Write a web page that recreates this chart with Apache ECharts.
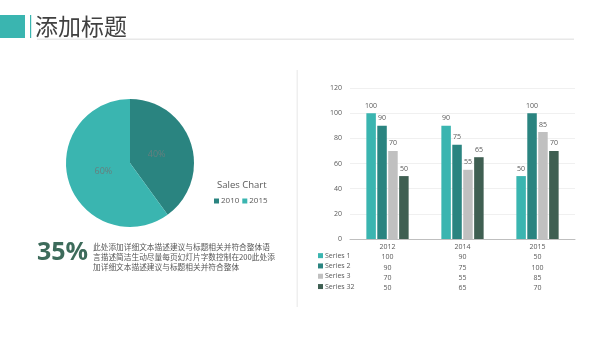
<!DOCTYPE html>
<html><head><meta charset="utf-8">
<script src="https://cdn.jsdelivr.net/npm/echarts@6/dist/echarts.min.js"></script>
<style>html,body{margin:0;padding:0;background:#fff}#c{width:600px;height:338px}</style>
</head><body><div id="c"></div>
<script>
const pieNames = ['2010', '2015'];
const pieValues = [40, 60];
const categories = ['2012', '2014', '2015'];
const seriesNames = ['Series 1', 'Series 2', 'Series 3', 'Series 32'];
const series1 = [100, 90, 50];
const series2 = [90, 75, 100];
const series3 = [70, 55, 85];
const series4 = [50, 65, 70];
const yTicks = [0, 20, 40, 60, 80, 100, 120];
const bigStat = '35%';
const paragraph = ['此处添加详细文本描述建议与标题相关并符合整体语', '言描述简洁生动尽量每页幻灯片字数控制在200此处添', '加详细文本描述建议与标题相关并符合整体'];
const titleText = '添加标题';

const barData = [series1, series2, series3, series4];
const barColors = ['#3ab5b0', '#2a8480', '#c0c0c0', '#3f5f52'];
const pieColors = ['#2a8480', '#3ab5b0'];
const font = '"Open Sans","Noto Sans CJK SC",sans-serif';
const pieItems = pieNames.map((n, i) => ({name: n, value: pieValues[i]}));

const chart = echarts.init(document.getElementById('c'));
chart.setOption({
  animation: false,
  textStyle: {fontFamily: font},
  graphic: [
    {type: 'rect', shape: {x: 0, y: 15, width: 25, height: 23}, style: {fill: '#3ab5b0'}},
    {type: 'rect', shape: {x: 30, y: 15, width: 1.2, height: 23}, style: {fill: '#3ab5b0'}},
    {type: 'rect', shape: {x: 37, y: 38.5, width: 537, height: 1.5}, style: {fill: '#e8e8e8'}},
    {type: 'rect', shape: {x: 296.5, y: 70, width: 1.5, height: 237}, style: {fill: '#efefef'}},
    {type: 'text', x: 35, y: 26, style: {text: titleText, fill: '#404040', font: '23px "Noto Sans CJK SC"', textVerticalAlign: 'middle'}},
    {type: 'text', x: 37, y: 253, style: {text: bigStat, fill: '#3d6b5b', font: 'bold 25px "Open Sans"', textVerticalAlign: 'middle'}},
    {type: 'text', x: 93, y: 242.5, style: {text: paragraph.join('\n'), fill: '#555', font: '7.7px "Noto Sans CJK SC"', lineHeight: 10, textVerticalAlign: 'top'}}
  ],
  title: {text: 'Sales Chart', left: 212, top: 176, textStyle: {fontSize: 9.5, fontWeight: 'normal', color: '#595959', fontFamily: font}},
  legend: [
    {data: pieNames, left: 209, top: 192, itemWidth: 5, itemHeight: 5, itemGap: 3, icon: 'rect',
     textStyle: {fontSize: 8, color: '#595959', padding: [0, 0, 0, -3]}},
    {data: seriesNames, orient: 'vertical', left: 313, top: 246, itemWidth: 5, itemHeight: 5, itemGap: 1, icon: 'rect',
     textStyle: {fontSize: 7, color: '#595959', lineHeight: 9.3, padding: [0, 0, 0, -3]}}
  ],
  grid: {left: 350, right: 25, top: 88, bottom: 99},
  xAxis: {type: 'category', data: categories,
    axisLine: {lineStyle: {color: '#bfbfbf'}}, axisTick: {show: false},
    axisLabel: {color: '#595959', fontSize: 7, margin: 3, lineHeight: 10.3,
      formatter: (v, i) => [v].concat(barData.map(s => s[i])).join('\n')}},
  yAxis: {type: 'value', min: 0, max: 120, interval: 20,
    axisLabel: {color: '#595959', fontSize: 7, margin: 8},
    splitLine: {lineStyle: {color: '#f0f0f0'}}},
  series: [
    {type: 'pie', center: [130, 163], radius: 64, startAngle: 90, clockwise: true,
     data: pieItems.map((d, i) => ({...d, itemStyle: {color: pieColors[i]}})),
     label: {show: false}, labelLine: {show: false}, emphasis: {disabled: true}},
    {type: 'pie', center: [130, 163], radius: 50, startAngle: 90, clockwise: true, silent: true,
     legendHoverLink: false, z: 5,
     data: pieItems.map(d => ({...d, itemStyle: {color: 'rgba(0,0,0,0)'}})),
     label: {position: 'inside', formatter: '{d}%', color: '#667f7e', fontSize: 9},
     labelLine: {show: false}, emphasis: {disabled: true}}
  ].concat(barData.map((d, i) => ({
    type: 'bar', name: seriesNames[i], data: d, barWidth: 9.5, barGap: '15%', barCategoryGap: '44%',
    itemStyle: {color: barColors[i]},
    label: {show: true, position: 'top', color: '#595959', fontSize: 7, distance: 4}
  })))
});
</script></body></html>
